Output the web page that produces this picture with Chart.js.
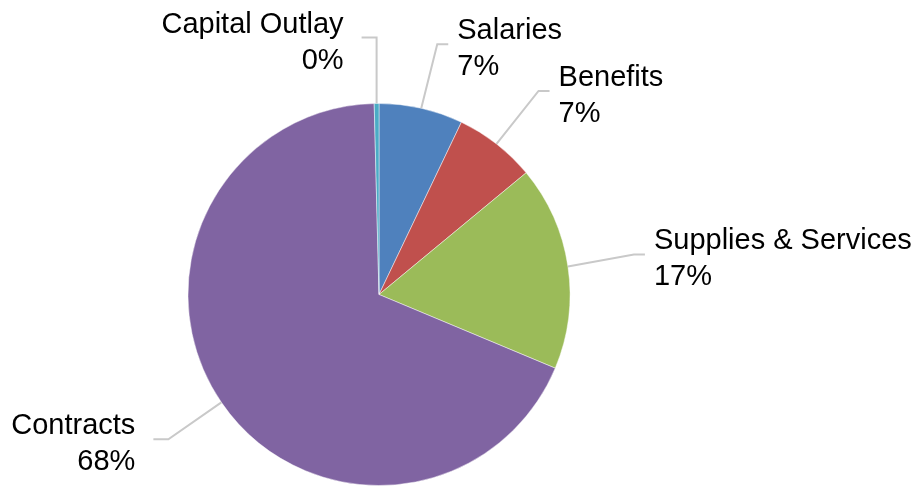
<!DOCTYPE html>
<html>
<head>
<meta charset="utf-8">
<title>Expenditures by Category</title>
<script src="https://cdn.jsdelivr.net/npm/chart.js@4.4.1/dist/chart.umd.min.js"></script>
<style>
    html, body { margin: 0; padding: 0; background: #ffffff; }
    #wrap { width: 922px; height: 487px; }
</style>
</head>
<body>
<div id="wrap"><canvas id="pie" width="922" height="487"></canvas></div>
<script>
// spending categories, clockwise from 12 o'clock
var categories = ['Salaries', 'Benefits', 'Supplies & Services', 'Contracts', 'Capital Outlay'];
var shares = [7.1, 6.9, 17.3, 68.3, 0.4];
var sliceColors = ['#4F81BD', '#C0504D', '#9BBB59', '#8064A2', '#4BACC6'];

// leader elbow offset from the slice edge, and which side the text sits on
var leaderLayout = [
    { dx: 16, dy: -64, side: 'right' },
    { dx: 42, dy: -53, side: 'right' },
    { dx: 66, dy: -12, side: 'right' },
    { dx: -53, dy: 37, side: 'left' },
    { dx: 0, dy: -66, side: 'left' }
];

var labelFont = '29px "Liberation Sans", Arial, sans-serif';

var leaderLabels = {
    id: 'leaderLabels',
    afterDatasetsDraw: function (chart) {
        var ctx = chart.ctx;
        var meta = chart.getDatasetMeta(0);
        var data = chart.data.datasets[0].data;
        var total = data.reduce(function (a, b) { return a + b; }, 0);

        ctx.save();
        meta.data.forEach(function (arc, i) {
            var p = arc.getProps(['x', 'y', 'startAngle', 'endAngle', 'outerRadius'], true);
            var mid = (p.startAngle + p.endAngle) / 2;
            var ex = p.x + Math.cos(mid) * p.outerRadius;
            var ey = p.y + Math.sin(mid) * p.outerRadius;
            var lay = leaderLayout[i];
            var kx = ex + lay.dx;
            var ky = ey + lay.dy;
            var leg = lay.side === 'right' ? 11 : -15;

            ctx.strokeStyle = '#C9C9C9';
            ctx.lineWidth = 2;
            ctx.beginPath();
            ctx.moveTo(ex, ey);
            ctx.lineTo(kx, ky);
            ctx.lineTo(kx + leg, ky);
            ctx.stroke();

            var pct = Math.round(data[i] / total * 100) + '%';
            ctx.font = labelFont;
            ctx.fillStyle = '#000000';
            ctx.textBaseline = 'alphabetic';
            if (lay.side === 'right') {
                ctx.textAlign = 'left';
                ctx.fillText(chart.data.labels[i], kx + leg + 9, ky - 5);
                ctx.fillText(pct, kx + leg + 9, ky + 31);
            } else {
                ctx.textAlign = 'right';
                ctx.fillText(chart.data.labels[i], kx + leg - 18, ky - 5);
                ctx.fillText(pct, kx + leg - 18, ky + 31);
            }
        });
        ctx.restore();
    }
};

var ctx = document.getElementById('pie').getContext('2d');
var chart = new Chart(ctx, {
    type: 'pie',
    data: {
        labels: categories,
        datasets: [{
            data: shares,
            backgroundColor: sliceColors,
            borderColor: 'rgba(255, 255, 255, 0.45)',
            borderWidth: 1
        }]
    },
    options: {
        responsive: false,
        animation: false,
        layout: {
            padding: { left: 187, right: 351, top: 103, bottom: 1 }
        },
        plugins: {
            legend: { display: false },
            tooltip: { enabled: false }
        }
    },
    plugins: [leaderLabels]
});
</script>
</body>
</html>
